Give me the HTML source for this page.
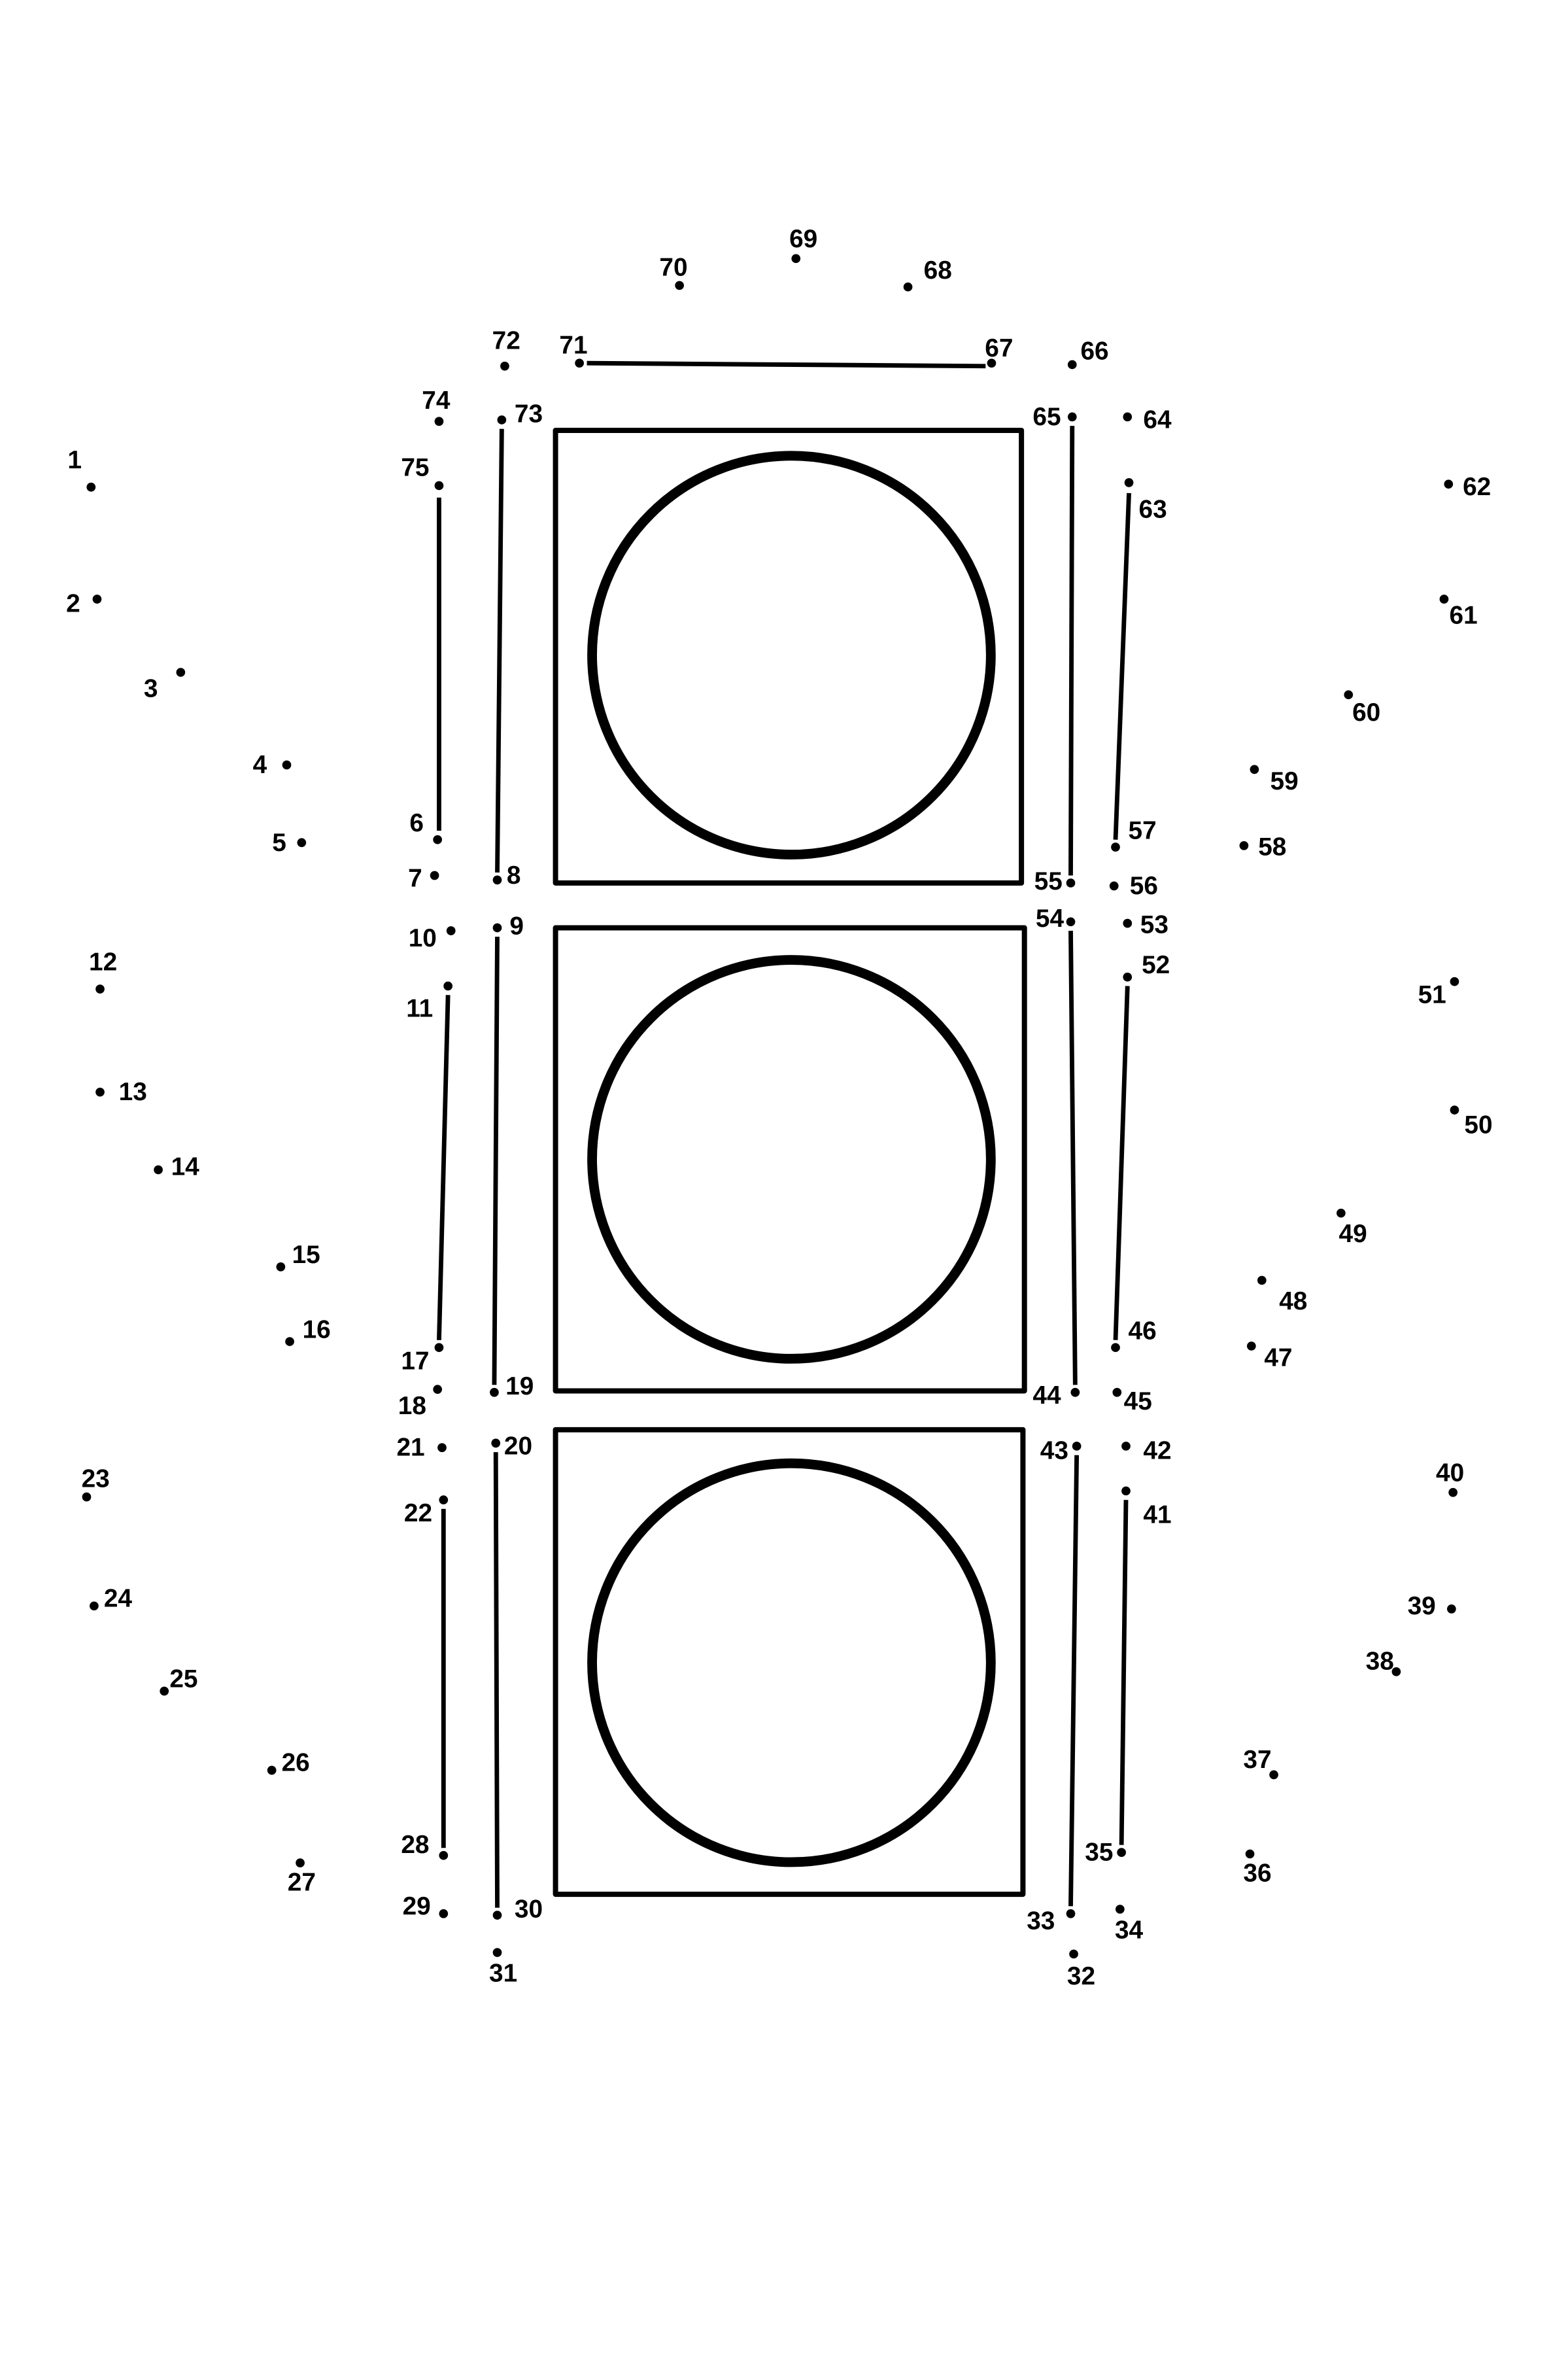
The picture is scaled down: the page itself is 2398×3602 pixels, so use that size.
<!DOCTYPE html>
<html><head><meta charset="utf-8"><style>html,body{margin:0;padding:0;background:#fff}svg{display:block}</style></head>
<body>
<svg width="2398" height="3602" viewBox="0 0 1050 1577" xmlns="http://www.w3.org/2000/svg">
<rect width="1050" height="1577" fill="#fff"/>
<g fill="none" stroke="#000" stroke-width="3.5" stroke-linejoin="round">
<rect x="372" y="288" width="312" height="303"/>
<rect x="372" y="621" width="314" height="310"/>
<rect x="372" y="957" width="313" height="311"/>
</g>
<g fill="none" stroke="#000" stroke-width="6.5">
<circle cx="530" cy="438.5" r="133.5"/>
<circle cx="530" cy="776" r="133.5"/>
<circle cx="530" cy="1113" r="133.5"/>
</g>
<g stroke="#000" stroke-width="3">
<line x1="393" y1="243" x2="660" y2="245"/>
<line x1="336" y1="287" x2="333" y2="584"/>
<line x1="294" y1="333" x2="294" y2="556"/>
<line x1="718" y1="285" x2="717" y2="586"/>
<line x1="756" y1="330" x2="747" y2="562"/>
<line x1="333" y1="627" x2="331" y2="927"/>
<line x1="300" y1="666" x2="294" y2="897"/>
<line x1="717" y1="623" x2="720" y2="927"/>
<line x1="755" y1="660" x2="747" y2="897"/>
<line x1="332" y1="972" x2="333" y2="1277"/>
<line x1="297" y1="1010" x2="297" y2="1237"/>
<line x1="721" y1="974" x2="717" y2="1276"/>
<line x1="754" y1="1004" x2="751" y2="1235"/>
</g>
<g fill="#000">
<circle cx="61" cy="326" r="3"/><circle cx="65" cy="401" r="3"/><circle cx="121" cy="450" r="3"/><circle cx="192" cy="512" r="3"/><circle cx="202" cy="564" r="3"/>
<circle cx="293" cy="562" r="3"/><circle cx="291" cy="586" r="3"/><circle cx="333" cy="589" r="3"/><circle cx="333" cy="621" r="3"/><circle cx="302" cy="623" r="3"/>
<circle cx="300" cy="660" r="3"/><circle cx="67" cy="662" r="3"/><circle cx="67" cy="731" r="3"/><circle cx="106" cy="783" r="3"/><circle cx="188" cy="848" r="3"/>
<circle cx="194" cy="898" r="3"/><circle cx="294" cy="902" r="3"/><circle cx="293" cy="930" r="3"/><circle cx="331" cy="932" r="3"/><circle cx="332" cy="966" r="3"/>
<circle cx="296" cy="969" r="3"/><circle cx="297" cy="1004" r="3"/><circle cx="58" cy="1002" r="3"/><circle cx="63" cy="1075" r="3"/><circle cx="110" cy="1132" r="3"/>
<circle cx="182" cy="1185" r="3"/><circle cx="201" cy="1247" r="3"/><circle cx="297" cy="1242" r="3"/><circle cx="297" cy="1281" r="3"/><circle cx="333" cy="1282" r="3"/>
<circle cx="333" cy="1307" r="3"/><circle cx="719" cy="1308" r="3"/><circle cx="717" cy="1281" r="3"/><circle cx="750" cy="1278" r="3"/><circle cx="751" cy="1240" r="3"/>
<circle cx="837" cy="1241" r="3"/><circle cx="853" cy="1188" r="3"/><circle cx="935" cy="1119" r="3"/><circle cx="972" cy="1077" r="3"/><circle cx="973" cy="999" r="3"/>
<circle cx="754" cy="998" r="3"/><circle cx="754" cy="968" r="3"/><circle cx="721" cy="968" r="3"/><circle cx="720" cy="932" r="3"/><circle cx="748" cy="932" r="3"/>
<circle cx="747" cy="902" r="3"/><circle cx="838" cy="901" r="3"/><circle cx="845" cy="857" r="3"/><circle cx="898" cy="812" r="3"/><circle cx="974" cy="743" r="3"/>
<circle cx="974" cy="657" r="3"/><circle cx="755" cy="654" r="3"/><circle cx="755" cy="618" r="3"/><circle cx="717" cy="617" r="3"/><circle cx="717" cy="591" r="3"/>
<circle cx="746" cy="593" r="3"/><circle cx="747" cy="567" r="3"/><circle cx="833" cy="566" r="3"/><circle cx="840" cy="515" r="3"/><circle cx="903" cy="465" r="3"/>
<circle cx="967" cy="401" r="3"/><circle cx="970" cy="324" r="3"/><circle cx="756" cy="323" r="3"/><circle cx="755" cy="279" r="3"/><circle cx="718" cy="279" r="3"/>
<circle cx="718" cy="244" r="3"/><circle cx="664" cy="243" r="3"/><circle cx="608" cy="192" r="3"/><circle cx="533" cy="173" r="3"/><circle cx="455" cy="191" r="3"/>
<circle cx="388" cy="243" r="3"/><circle cx="338" cy="245" r="3"/><circle cx="336" cy="281" r="3"/><circle cx="294" cy="282" r="3"/><circle cx="294" cy="325" r="3"/>
</g>
<g font-family="Liberation Sans, sans-serif" font-weight="bold" font-size="17" text-anchor="middle" dominant-baseline="central" fill="#000">
<text x="50" y="308">1</text><text x="49" y="404">2</text><text x="101" y="461">3</text><text x="174" y="512">4</text><text x="187" y="564">5</text>
<text x="279" y="551">6</text><text x="278" y="588">7</text><text x="344" y="586">8</text><text x="346" y="620">9</text><text x="283" y="628">10</text>
<text x="281" y="675">11</text><text x="69" y="644">12</text><text x="89" y="731">13</text><text x="124" y="781">14</text><text x="205" y="840">15</text>
<text x="212" y="890">16</text><text x="278" y="911">17</text><text x="276" y="941">18</text><text x="348" y="928">19</text><text x="347" y="968">20</text>
<text x="275" y="969">21</text><text x="280" y="1013">22</text><text x="64" y="990">23</text><text x="79" y="1070">24</text><text x="123" y="1124">25</text>
<text x="198" y="1180">26</text><text x="202" y="1260">27</text><text x="278" y="1235">28</text><text x="279" y="1276">29</text><text x="354" y="1278">30</text>
<text x="337" y="1321">31</text><text x="724" y="1323">32</text><text x="697" y="1286">33</text><text x="756" y="1292">34</text><text x="736" y="1240">35</text>
<text x="842" y="1254">36</text><text x="842" y="1178">37</text><text x="924" y="1112">38</text><text x="952" y="1075">39</text><text x="971" y="986">40</text>
<text x="775" y="1014">41</text><text x="775" y="971">42</text><text x="706" y="971">43</text><text x="701" y="934">44</text><text x="762" y="938">45</text>
<text x="765" y="891">46</text><text x="856" y="909">47</text><text x="866" y="871">48</text><text x="906" y="826">49</text><text x="990" y="753">50</text>
<text x="959" y="666">51</text><text x="774" y="646">52</text><text x="773" y="619">53</text><text x="703" y="615">54</text><text x="702" y="590">55</text>
<text x="766" y="593">56</text><text x="765" y="556">57</text><text x="852" y="567">58</text><text x="860" y="523">59</text><text x="915" y="477">60</text>
<text x="980" y="412">61</text><text x="989" y="326">62</text><text x="772" y="341">63</text><text x="775" y="281">64</text><text x="701" y="279">65</text>
<text x="733" y="235">66</text><text x="669" y="233">67</text><text x="628" y="181">68</text><text x="538" y="160">69</text><text x="451" y="179">70</text>
<text x="384" y="231">71</text><text x="339" y="228">72</text><text x="354" y="277">73</text><text x="292" y="268">74</text><text x="278" y="313">75</text>
</g>
</svg>
</body></html>
